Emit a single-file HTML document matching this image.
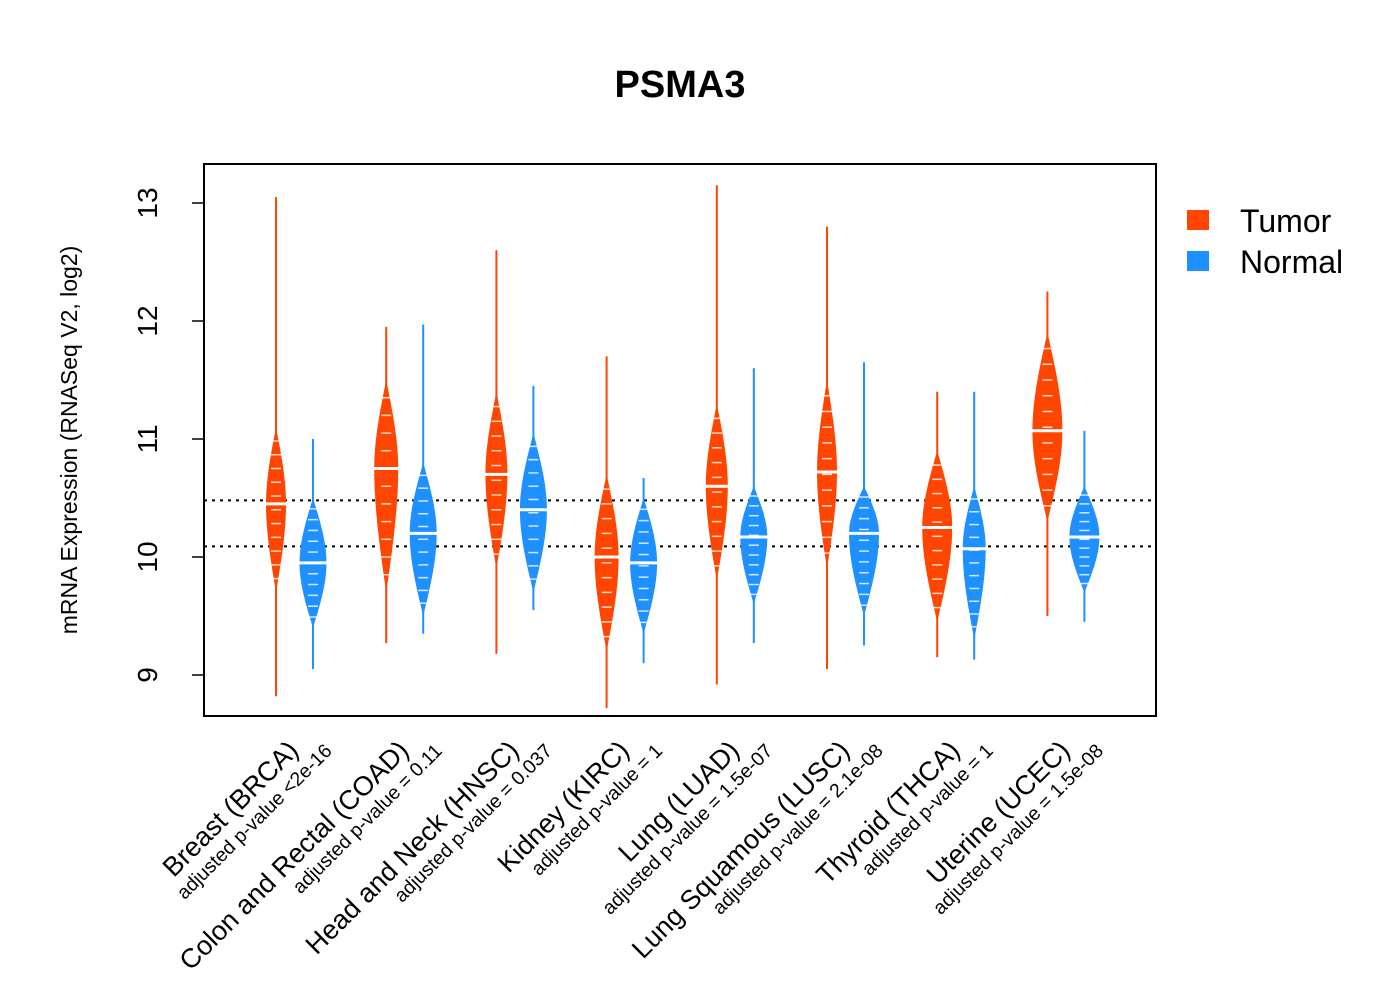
<!DOCTYPE html>
<html><head><meta charset="utf-8"><style>
body{margin:0;background:#fff}
svg text{font-family:"Liberation Sans",Arial,sans-serif}
</style></head><body>
<svg id="chart" width="1400" height="1000" xmlns="http://www.w3.org/2000/svg">
<rect width="1400" height="1000" fill="#fff"/>
<text x="680" y="97" text-anchor="middle" font-size="38" font-weight="bold">PSMA3</text>
<text transform="translate(77,440) rotate(-90)" text-anchor="middle" font-size="23">mRNA Expression (RNASeq V2, log2)</text>
<g id="plot"></g>
<rect x="204" y="164" width="952" height="552" fill="none" stroke="#000" stroke-width="2"/>
<g>
<rect x="1187" y="210" width="22" height="20" fill="#FF4500"/>
<text x="1240" y="232" font-size="32">Tumor</text>
<rect x="1187" y="251" width="22" height="20" fill="#1E90FF"/>
<text x="1240" y="273" font-size="32">Normal</text>
</g>
</svg>
<script>
const categories=["Breast (BRCA)","Colon and Rectal (COAD)","Head and Neck (HNSC)","Kidney (KIRC)","Lung (LUAD)","Lung Squamous (LUSC)","Thyroid (THCA)","Uterine (UCEC)"];
const pvalues=["adjusted p-value <2e-16","adjusted p-value = 0.11","adjusted p-value = 0.037","adjusted p-value = 1","adjusted p-value = 1.5e-07","adjusted p-value = 2.1e-08","adjusted p-value = 1","adjusted p-value = 1.5e-08"];
const tumorMin=[8.82,9.27,9.18,8.72,8.92,9.05,9.15,9.5];
const tumorLo=[9.7,9.7,9.9,9.2,9.8,9.9,9.45,10.3];
const tumorMed=[10.45,10.75,10.7,10.0,10.6,10.72,10.25,11.07];
const tumorHi=[11.1,11.5,11.4,10.7,11.3,11.5,10.9,11.9];
const tumorMax=[13.05,11.95,12.6,11.7,13.15,12.8,11.4,12.25];
const tumorWidth=[1.0,1.2,1.1,1.2,1.1,1.0,1.5,1.5];
const normalMin=[9.05,9.35,9.55,9.1,9.27,9.25,9.13,9.45];
const normalLo=[9.4,9.5,9.7,9.35,9.6,9.5,9.3,9.7];
const normalMed=[9.95,10.2,10.4,9.95,10.17,10.2,10.07,10.17];
const normalHi=[10.5,10.8,11.05,10.5,10.6,10.6,10.6,10.6];
const normalMax=[11.0,11.97,11.45,10.67,11.6,11.65,11.4,11.07];
const normalWidth=[1.35,1.35,1.35,1.35,1.35,1.5,1.15,1.5];
const yTicks=[9,10,11,12,13];
const refLines=[10.48,10.09];

const NS="http://www.w3.org/2000/svg";
const g=document.getElementById('plot');
function yS(v){return 557-(v-10)*118;}
function xS(i,normal){return 276+i*110.2+(normal?37:0);}
function mk(t,a){const e=document.createElementNS(NS,t);for(const k in a)e.setAttribute(k,a[k]);return e;}

yTicks.forEach(t=>{
  const l=mk('line',{x1:192,x2:204,y1:yS(t),y2:yS(t),stroke:'#000','stroke-width':1.5});
  
  
  g.appendChild(l);
  const tx=mk('text',{transform:`translate(157,${yS(t)}) rotate(-90)`,'text-anchor':'middle','font-size':28});
  
  
  tx.textContent=t;g.appendChild(tx);
});
refLines.forEach(v=>{
  const l=mk('line',{x1:204,x2:1156,y1:yS(v),y2:yS(v),stroke:'#000','stroke-width':2,'stroke-dasharray':'3,5'});
  
  
  g.appendChild(l);
});
function violin(i,normal,mn,lo,md,hi,mx,w){
  const x=xS(i,normal),col=normal?'#1E90FF':'#FF4500';
  const hw=w*10;
  const line=mk('line',{x1:x,x2:x,y1:yS(mn),y2:yS(mx),stroke:col,'stroke-width':2});
  
  
  g.appendChild(line);
  const yl=yS(lo),ym=yS(md),yh=yS(hi);
  const d=`M${x},${yh} C${x+hw*0.6},${yh+(ym-yh)*0.4} ${x+hw},${ym-(ym-yh)*0.3} ${x+hw},${ym} C${x+hw},${ym+(yl-ym)*0.3} ${x+hw*0.6},${yl-(yl-ym)*0.4} ${x},${yl} C${x-hw*0.6},${yl-(yl-ym)*0.4} ${x-hw},${ym+(yl-ym)*0.3} ${x-hw},${ym} C${x-hw},${ym-(ym-yh)*0.3} ${x-hw*0.6},${yh+(ym-yh)*0.4} ${x},${yh}Z`;
  const p=mk('path',{d:d,fill:col});
  
  
  g.appendChild(p);
  for(let k=1;k<12;k++){
    const v=lo+(hi-lo)*k/12;
    const s=mk('line',{x1:x-5,x2:x+5,y1:yS(v),y2:yS(v),stroke:'#fff','stroke-width':1.5,opacity:0.8});
    
    
    g.appendChild(s);
  }
  const m=mk('line',{x1:x-hw-1,x2:x+hw+1,y1:ym,y2:ym,stroke:'#fff','stroke-width':3});
  
  
  g.appendChild(m);
}
for(let i=0;i<categories.length;i++){
  violin(i,false,tumorMin[i],tumorLo[i],tumorMed[i],tumorHi[i],tumorMax[i],tumorWidth[i]);
  violin(i,true,normalMin[i],normalLo[i],normalMed[i],normalHi[i],normalMax[i],normalWidth[i]);
  const ax=300+i*110.2;
  const c=mk('text',{transform:`translate(${ax},752) rotate(-45)`,'text-anchor':'end','font-size':27});
  
  
  c.textContent=categories[i];g.appendChild(c);
  const pv=mk('text',{transform:`translate(${ax+33},752) rotate(-45)`,'text-anchor':'end','font-size':19.5});
  
  
  pv.textContent=pvalues[i];g.appendChild(pv);
}
</script>
</body></html>
